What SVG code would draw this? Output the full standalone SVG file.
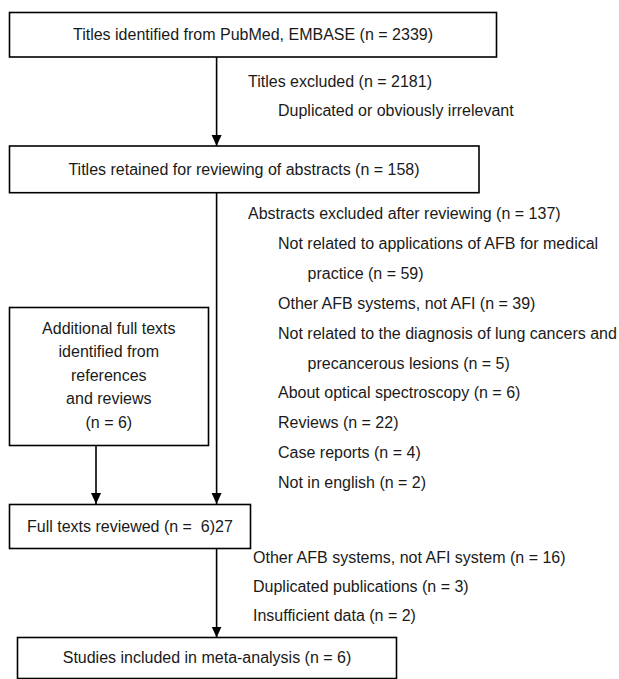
<svg xmlns="http://www.w3.org/2000/svg" width="619" height="679" viewBox="0 0 619 679">
<style>
.box{fill:#fff;stroke:#000;stroke-width:1.6}
.t{font-family:"Liberation Sans",Arial,sans-serif;font-size:16px;fill:#1a1a1a}
.c{text-anchor:middle}
.ln{stroke:#000;stroke-width:1.6;fill:none}
</style>
<defs>
<marker id="ah" markerUnits="userSpaceOnUse" markerWidth="12" markerHeight="12" viewBox="0 0 12 12" refX="11" refY="6" orient="auto">
<path d="M0,1 L11,6 L0,11 Z" fill="#000"/>
</marker>
</defs>
<rect width="619" height="679" fill="#fff"/>
<g id="connectors">
<line class="ln" x1="216.6" y1="57" x2="216.6" y2="146" marker-end="url(#ah)"/>
<line class="ln" x1="216.6" y1="193" x2="216.6" y2="504" marker-end="url(#ah)"/>
<line class="ln" x1="96" y1="445.5" x2="96" y2="504" marker-end="url(#ah)"/>
<line class="ln" x1="216.6" y1="548.5" x2="216.6" y2="637.5" marker-end="url(#ah)"/>
</g>
<g id="n1">
<rect class="box" x="9.5" y="12.5" width="487" height="44.5"/>
<text class="t c" x="253" y="39.5">Titles identified from PubMed, EMBASE (n = 2339)</text>
</g>
<g id="ex1">
<text class="t" x="248" y="87">Titles excluded (n = 2181)</text>
<text class="t" x="278" y="115.5">Duplicated or obviously irrelevant</text>
</g>
<g id="n2">
<rect class="box" x="9.5" y="146" width="469.5" height="46.7"/>
<text class="t c" x="244" y="175">Titles retained for reviewing of abstracts (n = 158)</text>
</g>
<g id="ex2">
<text class="t" x="248" y="219">Abstracts excluded after reviewing (n = 137)</text>
<text class="t" x="278" y="248.9">Not related to applications of AFB for medical</text>
<text class="t" x="307.5" y="278.8">practice (n = 59)</text>
<text class="t" x="278" y="308.7">Other AFB systems, not AFI (n = 39)</text>
<text class="t" x="278" y="338.6">Not related to the diagnosis of lung cancers and</text>
<text class="t" x="307.5" y="368.5">precancerous lesions (n = 5)</text>
<text class="t" x="278" y="398.4">About optical spectroscopy (n = 6)</text>
<text class="t" x="278" y="428.3">Reviews (n = 22)</text>
<text class="t" x="278" y="458.2">Case reports (n = 4)</text>
<text class="t" x="278" y="488.1">Not in english (n = 2)</text>
</g>
<g id="n3">
<rect class="box" x="9.5" y="307.5" width="199" height="138"/>
<text class="t c" x="108.8" y="333.5">Additional full texts</text>
<text class="t c" x="108.8" y="357">identified from</text>
<text class="t c" x="108.8" y="380.5">references</text>
<text class="t c" x="108.8" y="404">and reviews</text>
<text class="t c" x="108.8" y="427.5">(n = 6)</text>
</g>
<g id="n4">
<rect class="box" x="9.5" y="504.5" width="241" height="44"/>
<text class="t" x="27" y="531.5" xml:space="preserve">Full texts reviewed (n =  6)27</text>
</g>
<g id="ex3">
<text class="t" x="253" y="563">Other AFB systems, not AFI system (n = 16)</text>
<text class="t" x="253" y="592">Duplicated publications (n = 3)</text>
<text class="t" x="253" y="621">Insufficient data (n = 2)</text>
</g>
<g id="n5">
<rect class="box" x="17.5" y="637.5" width="379" height="41"/>
<text class="t c" x="207" y="663">Studies included in meta-analysis (n = 6)</text>
</g>
</svg>
